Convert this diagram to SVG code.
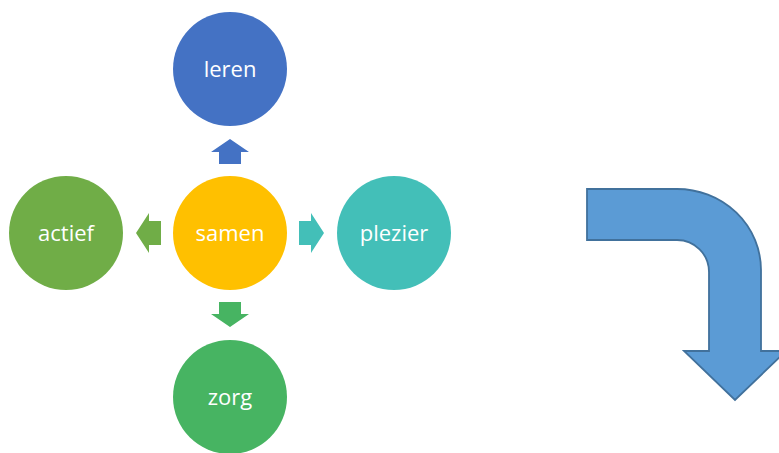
<svg xmlns="http://www.w3.org/2000/svg" width="779" height="453" viewBox="0 0 779 453">
<style>
.lbl{font-family:"Open Sans","Liberation Sans",sans-serif;font-size:22px;fill:#fff;text-anchor:middle}
</style>
<rect width="779" height="453" fill="#fff"/>
<g id="connectors">
<polygon id="arrow-up" points="230,139 249,152 241,152 241,164 219,164 219,152 211,152" fill="#4472C4"/>
<polygon id="arrow-down" points="230,327 249,314 241,314 241,302 219,302 219,314 211,314" fill="#47B462"/>
<polygon id="arrow-left" points="136,233 149,213 149,221 161,221 161,245 149,245 149,253" fill="#70AD47"/>
<polygon id="arrow-right" points="324,233 311,213 311,221 299,221 299,245 311,245 311,253" fill="#43BFB8"/>
</g>
<g id="leren"><circle cx="230" cy="69" r="57" fill="#4472C4"/><text class="lbl" x="230" y="77">leren</text></g>
<g id="samen"><circle cx="230" cy="233" r="57" fill="#FFC000"/><text class="lbl" x="230" y="241">samen</text></g>
<g id="plezier"><circle cx="394" cy="233" r="57" fill="#43BFB8"/><text class="lbl" x="394" y="241">plezier</text></g>
<g id="actief"><circle cx="66" cy="233" r="57" fill="#70AD47"/><text class="lbl" x="66" y="241">actief</text></g>
<g id="zorg"><circle cx="230" cy="397" r="57" fill="#47B462"/><text class="lbl" x="230" y="405">zorg</text></g>
<g id="bent-arrow">
<path d="M587,189 L677,189 A84,81 0 0 1 761,270 L761,351 L786,351 L735,400 L684,351 L709,351 L709,272 A32,32 0 0 0 677,240 L587,240 Z" fill="#5B9BD5" stroke="#41719C" stroke-width="1.8"/>
</g>
</svg>
